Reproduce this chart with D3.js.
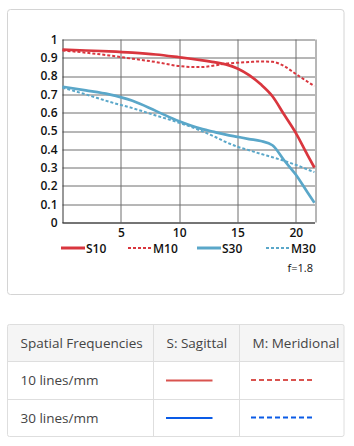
<!DOCTYPE html>
<html>
<head>
<meta charset="utf-8">
<script src="https://cdn.jsdelivr.net/npm/d3@7"></script>
<style>
  body { margin: 0; background: #fff; }
  svg { display: block; }
</style>
</head>
<body>
<svg width="354" height="446"></svg>
<script>
// image height (mm) sampled along x
var heights = [0, 2, 4, 6, 8, 10, 11, 12, 13, 14, 15, 16, 17, 18, 19, 20, 21, 21.6];
var s10 = [0.945, 0.94, 0.935, 0.928, 0.918, 0.903, 0.895, 0.886, 0.876, 0.864, 0.842, 0.805, 0.755, 0.69, 0.59, 0.49, 0.37, 0.3];
var m10 = [0.94, 0.928, 0.913, 0.895, 0.877, 0.855, 0.85, 0.85, 0.858, 0.868, 0.873, 0.877, 0.88, 0.878, 0.855, 0.812, 0.77, 0.745];
var s30 = [0.742, 0.722, 0.70, 0.665, 0.61, 0.553, 0.53, 0.51, 0.495, 0.48, 0.468, 0.456, 0.445, 0.422, 0.34, 0.262, 0.165, 0.108];
var m30 = [0.737, 0.70, 0.66, 0.625, 0.585, 0.545, 0.523, 0.498, 0.47, 0.44, 0.414, 0.395, 0.375, 0.357, 0.337, 0.315, 0.29, 0.275];
var seriesNames = ["S10", "M10", "S30", "M30"];
var xTicks = [5, 10, 15, 20];
var yTicks = [0, 0.1, 0.2, 0.3, 0.4, 0.5, 0.6, 0.7, 0.8, 0.9, 1];
var aperture = "f=1.8";
var tableHead = ["Spatial Frequencies", "S: Sagittal", "M: Meridional"];
var tableRows = ["10 lines/mm", "30 lines/mm"];

var red = "#d9363e", blue = "#5aa7c9";
var styles = {
  S10: {color: red, dash: null, w: 2.7},
  M10: {color: red, dash: "3,2", w: 2},
  S30: {color: blue, dash: null, w: 2.7},
  M30: {color: blue, dash: "3,2", w: 2}
};
var values = {S10: s10, M10: m10, S30: s30, M30: m30};

var svg = d3.select("svg");

// chart panel
svg.append("rect")
  .attr("x", 7.5).attr("y", 9.5).attr("width", 336.5).attr("height", 285)
  .attr("rx", 3).attr("fill", "#fff").attr("stroke", "#d4d4d4");

var margin = {top: 39.5, left: 62.5},
    width = 252.5,
    height = 183;

var x = d3.scaleLinear().domain([0, 21.65]).range([0, width]),
    y = d3.scaleLinear().domain([0, 1]).range([height, 0]);

var g = svg.append("g").attr("transform", "translate(" + margin.left + "," + margin.top + ")");

// grid
g.selectAll(".hgrid").data(yTicks).enter().append("line")
  .attr("x1", 0).attr("x2", width)
  .attr("y1", function(d) { return Math.round(y(d)) + 0.5; })
  .attr("y2", function(d) { return Math.round(y(d)) + 0.5; })
  .attr("stroke", "#6f6f6f").attr("stroke-width", 1);
g.selectAll(".vgrid").data(xTicks.concat([21.65])).enter().append("line")
  .attr("y1", 0).attr("y2", height)
  .attr("x1", function(d) { return Math.round(x(d)) + 0.5; })
  .attr("x2", function(d) { return Math.round(x(d)) + 0.5; })
  .attr("stroke", "#6f6f6f").attr("stroke-width", 1);
g.append("line").attr("x1", 0.5).attr("x2", 0.5).attr("y1", 0).attr("y2", height + 0.5)
  .attr("stroke", "#333");
g.append("line").attr("x1", 0).attr("x2", width).attr("y1", height + 0.5).attr("y2", height + 0.5)
  .attr("stroke", "#333");

// axes (text only)
var yAxis = g.append("g")
  .call(d3.axisLeft(y).tickValues(yTicks).tickSize(0).tickPadding(5)
    .tickFormat(function(d) { return d === 0 || d === 1 ? d3.format("d")(d) : d3.format(".1f")(d); }));
yAxis.select(".domain").remove();
var xAxis = g.append("g").attr("transform", "translate(0," + height + ")")
  .call(d3.axisBottom(x).tickValues(xTicks).tickSize(0).tickPadding(6));
xAxis.select(".domain").remove();
g.selectAll(".tick text")
  .attr("font-family", "'Open Sans', sans-serif")
  .attr("font-size", 12).attr("font-weight", 600).attr("fill", "#111");

// curves
var line = d3.line()
  .x(function(d) { return x(d[0]); })
  .y(function(d) { return y(d[1]); })
  .curve(d3.curveMonotoneX);

seriesNames.slice().reverse().forEach(function(name) {
  var st = styles[name];
  g.append("path")
    .datum(d3.zip(heights, values[name]))
    .attr("fill", "none")
    .attr("stroke", st.color)
    .attr("stroke-width", st.w)
    .attr("stroke-dasharray", st.dash)
    .attr("d", line);
});

// legend
var legendX = [61, 128, 197, 266];
var lg = svg.append("g").attr("transform", "translate(0,248)");
seriesNames.forEach(function(name, i) {
  var st = styles[name];
  lg.append("line")
    .attr("x1", legendX[i]).attr("x2", legendX[i] + 24)
    .attr("y1", 0).attr("y2", 0)
    .attr("stroke", st.color)
    .attr("stroke-width", st.dash ? 2 : 3)
    .attr("stroke-dasharray", st.dash);
  lg.append("text")
    .attr("x", legendX[i] + 25).attr("y", 4.5)
    .attr("font-family", "'Open Sans', sans-serif")
    .attr("font-size", 12).attr("font-weight", 600).attr("fill", "#111")
    .text(name);
});
svg.append("text")
  .attr("x", 313).attr("y", 272).attr("text-anchor", "end")
  .attr("font-family", "'Open Sans', sans-serif")
  .attr("font-size", 11).attr("fill", "#111")
  .text(aperture);

// table
var tx = 7.5, tw = 336.5, ty = 324.5;
var rowH = [37, 38, 37];
var colX = [7.5, 153.5, 239.5, 344];
var t = svg.append("g");
t.append("rect").attr("x", tx).attr("y", ty).attr("width", tw).attr("height", rowH[0])
  .attr("fill", "#f5f5f5");
t.append("rect").attr("x", tx).attr("y", ty).attr("width", tw).attr("height", d3.sum(rowH))
  .attr("rx", 2).attr("fill", "none").attr("stroke", "#dedede");
var rowY = [ty, ty + rowH[0], ty + rowH[0] + rowH[1], ty + d3.sum(rowH)];
[rowY[1], rowY[2]].forEach(function(yy) {
  t.append("line").attr("x1", tx).attr("x2", tx + tw).attr("y1", yy).attr("y2", yy).attr("stroke", "#dedede");
});
[colX[1], colX[2]].forEach(function(xx) {
  t.append("line").attr("x1", xx).attr("x2", xx).attr("y1", ty).attr("y2", rowY[3]).attr("stroke", "#dedede");
});
function cellText(txt, xx, yy) {
  t.append("text").attr("x", xx).attr("y", yy)
    .attr("font-family", "'Open Sans', sans-serif")
    .attr("font-size", 13.5).attr("fill", "#444")
    .text(txt);
}
tableHead.forEach(function(h, i) { cellText(h, colX[i] + 13, rowY[0] + 23); });
tableRows.forEach(function(r, i) { cellText(r, colX[0] + 13, rowY[i + 1] + 23); });

var tableColors = ["#d9534f", "#0a5be6"];
tableRows.forEach(function(r, i) {
  var yy = rowY[i + 1] + rowH[i + 1] / 2;
  t.append("line").attr("x1", 166).attr("x2", 212.5).attr("y1", yy).attr("y2", yy)
    .attr("stroke", tableColors[i]).attr("stroke-width", 2);
  t.append("line").attr("x1", 251).attr("x2", 313.5).attr("y1", yy - 0.5).attr("y2", yy - 0.5)
    .attr("stroke", tableColors[i]).attr("stroke-width", 2).attr("stroke-dasharray", "5,3");
});
</script>
</body>
</html>
